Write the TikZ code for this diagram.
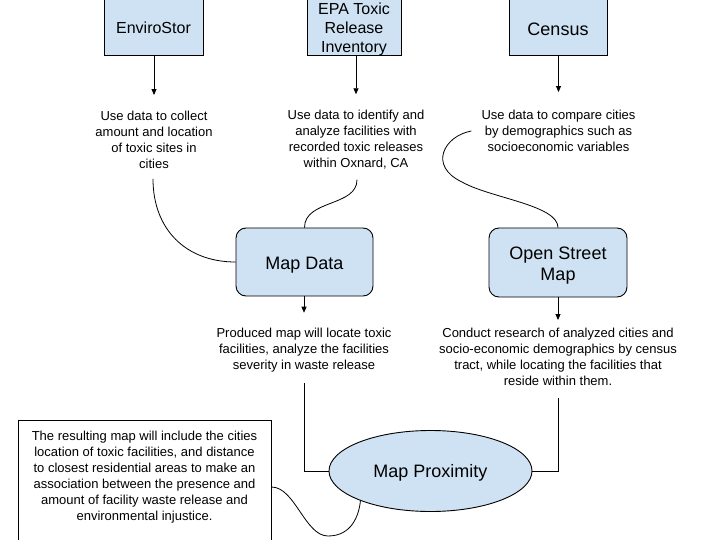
\documentclass[tikz,border=0pt]{standalone}
\usepackage{fontspec}
\setmainfont{Liberation Sans}
\usetikzlibrary{arrows.meta,shapes.geometric}
\definecolor{boxblue}{HTML}{CFE2F3}
\begin{document}
\begin{tikzpicture}[x=1pt,y=-1pt,
  srcbox/.style={draw=black, fill=boxblue, line width=0.9pt, inner sep=0pt, align=center},
  midbox/.style={srcbox, rounded corners=10pt},
  note/.style={align=center, inner sep=0pt, font=\fontsize{13}{16}\selectfont},
  link/.style={line width=0.8pt},
  arr/.style={link, -{Triangle[length=6pt,width=5pt]}}]
\useasboundingbox (0,0) rectangle (720,540);
\begin{scope}
\clip (0,0) rectangle (720,540);
% source boxes
\node[srcbox, minimum width=99pt, minimum height=58pt, font=\fontsize{16}{18}\selectfont,
  text height=15.5pt, text depth=0pt] (envi) at (153.5,26) {EnviroStor};
\node[srcbox, minimum width=94pt, minimum height=58pt, font=\fontsize{16}{19}\selectfont,
  text height=52.6pt, text depth=0pt] (epa) at (354,26) {EPA Toxic\\Release\\Inventory};
\node[srcbox, minimum width=98pt, minimum height=58pt, font=\fontsize{18}{20}\selectfont,
  text height=18.9pt, text depth=0pt] (cen) at (558,26) {Census};
% notes
\node[note] (envt) at (154,140) {Use data to collect\\amount and location\\of toxic sites in\\cities};
\node[note] (epat) at (356,140) {Use data to identify and\\analyze facilities with\\recorded toxic releases\\within Oxnard, CA};
\node[note] (cent) at (558.5,131) {Use data to compare cities\\by demographics such as\\socioeconomic variables};
% middle boxes
\node[midbox, minimum width=137pt, minimum height=68pt, font=\fontsize{18}{20}\selectfont,
  text height=15.9pt, text depth=0pt] (mdata) at (304.5,262) {Map Data};
\node[midbox, minimum width=138pt, minimum height=69pt, font=\fontsize{18}{21}\selectfont,
  text height=35pt, text depth=0pt] (osm) at (558,262.5) {Open Street\\Map};
\node[note] (mdt) at (304,350) {Produced map will locate toxic\\facilities, analyze the facilities\\severity in waste release};
\node[note] (osmt) at (558,357) {Conduct research of analyzed cities and\\socio-economic demographics by census\\tract, while locating the facilities that\\reside within them.};
% proximity
\node[srcbox, ellipse, minimum width=203pt, minimum height=81pt, font=\fontsize{18}{20}\selectfont,
  text height=13.9pt, text depth=0pt] (prox) at (430.5,471) {Map Proximity};
% result
\node[draw=black, line width=0.9pt, minimum width=253pt, minimum height=134pt, inner sep=0pt] (res) at (144.5,487) {};
\node[note] (rest) at (144.5,477) {The resulting map will include the cities\\location of toxic facilities, and distance\\to closest residential areas to make an\\association between the presence and\\amount of facility waste release and\\environmental injustice.};
% arrows
\draw[arr] (envt.north |- envi.south) -- ([yshift=16pt]envt.north);
\draw[arr] (epat.north |- epa.south) -- ([yshift=16pt]epat.north);
\draw[arr] (cent.north |- cen.south) -- ([yshift=18pt]cent.north);
\draw[arr] (mdt.north |- mdata.south) -- ([yshift=15pt]mdt.north);
\draw[arr] (osmt.north |- osm.south) -- ([yshift=8pt]osmt.north);
% curves
\draw[link] ([xshift=-1pt,yshift=-10pt]envt.south) .. controls +(0,50) and +(-50,0) .. (mdata.west);
\draw[link] ([xshift=1pt,yshift=-10pt]epat.south) .. controls +(0,27) and +(0,-28) .. (mdata.north);
\draw[link] ([xshift=-10pt]cent.west) .. controls (444,136) and (428,166) .. (462,182)
  .. controls (490,198) and (558,205) .. (osm.north);
\draw[link] ([yshift=-11pt]mdt.south) |- (prox.west);
\draw[link] ([yshift=-12pt]osmt.south) |- (prox.east);
\draw[link] (res.east) .. controls (295,487) and (305,536) .. (328,536)
  .. controls (352,536) and (359,515) .. (prox.203);
\end{scope}
\end{tikzpicture}
\end{document}
